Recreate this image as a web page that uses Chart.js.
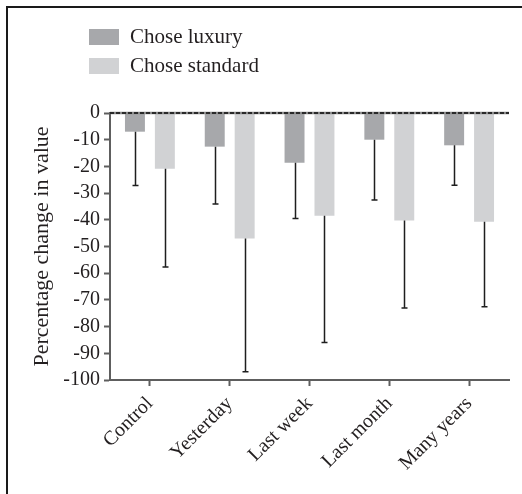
<!DOCTYPE html>
<html>
<head>
<meta charset="utf-8">
<script src="https://cdn.jsdelivr.net/npm/chart.js@4/dist/chart.umd.min.js"></script>
<style>
  html, body { margin: 0; padding: 0; background: #fff; }
  #wrap { width: 522px; height: 494px; position: relative; }
</style>
</head>
<body>
<div id="wrap"><canvas id="c" width="522" height="494"></canvas></div>
<script>
const categories = ["Control", "Yesterday", "Last week", "Last month", "Many years"];
const seriesNames = ["Chose luxury", "Chose standard"];
const luxuryValues = [-7, -12.6, -18.6, -10, -12.1];
const standardValues = [-20.9, -47, -38.5, -40.3, -40.7];
const luxuryErr = [20.2, 21.5, 20.9, 22.6, 15];
const standardErr = [36.8, 49.9, 47.5, 32.7, 31.9];
const yTicks = [0, -10, -20, -30, -40, -50, -60, -70, -80, -90, -100];
const yTitle = "Percentage change in value";

const FONT = "'Liberation Serif', 'Times New Roman', serif";
const luxuryColor = "#a7a8ab";
const standardColor = "#d1d2d4";
const axisColor = "#5e5e5e";

const figurePlugin = {
  id: 'figure',
  beforeDraw(chart) {
    const ctx = chart.ctx;
    ctx.save();
    ctx.fillStyle = '#fff';
    ctx.fillRect(0, 0, chart.width, chart.height);
    ctx.strokeStyle = '#1a1a1a';
    ctx.lineWidth = 2;
    ctx.beginPath();
    ctx.moveTo(7, chart.height);
    ctx.lineTo(7, 7);
    ctx.lineTo(chart.width, 7);
    ctx.stroke();
    // legend
    const items = chart.data.datasets;
    ctx.font = "21px " + FONT;
    ctx.textBaseline = 'middle';
    ctx.textAlign = 'left';
    items.forEach((ds, i) => {
      const y = 37 + i * 29;
      ctx.fillStyle = ds.backgroundColor;
      ctx.fillRect(89, y - 8, 30, 16);
      ctx.fillStyle = '#231f20';
      ctx.fillText(ds.label, 130, y);
    });
    ctx.restore();
  },
  afterDatasetsDraw(chart) {
    const ctx = chart.ctx;
    const ys = chart.scales.y;
    ctx.save();
    ctx.strokeStyle = '#1e1e1e';
    ctx.lineWidth = 1.5;
    chart.data.datasets.forEach((ds, di) => {
      const meta = chart.getDatasetMeta(di);
      meta.data.forEach((bar, i) => {
        const v = ds.data[i];
        const e = ds.err[i];
        const y0 = ys.getPixelForValue(v);
        const y1 = ys.getPixelForValue(v - e);
        const x = Math.round(bar.x) + 0.5;
        ctx.beginPath();
        ctx.moveTo(x, y0);
        ctx.lineTo(x, y1);
        ctx.moveTo(x - 3, y1);
        ctx.lineTo(x + 3, y1);
        ctx.stroke();
      });
    });
    // zero line
    const a = chart.chartArea;
    const yz = ys.getPixelForValue(0);
    ctx.strokeStyle = '#8a8a8a';
    ctx.lineWidth = 2.5;
    ctx.beginPath();
    ctx.moveTo(a.left, yz);
    ctx.lineTo(a.right, yz);
    ctx.stroke();
    ctx.strokeStyle = '#2a2a2a';
    ctx.lineWidth = 2;
    ctx.setLineDash([4, 2]);
    ctx.beginPath();
    ctx.moveTo(a.left, yz);
    ctx.lineTo(a.right, yz);
    ctx.stroke();
    ctx.restore();
  }
};

new Chart(document.getElementById('c'), {
  type: 'bar',
  data: {
    labels: categories,
    datasets: [
      { label: seriesNames[0], data: luxuryValues, err: luxuryErr, backgroundColor: luxuryColor },
      { label: seriesNames[1], data: standardValues, err: standardErr, backgroundColor: standardColor }
    ]
  },
  options: {
    responsive: false,
    animation: false,
    devicePixelRatio: 1,
    layout: { padding: { left: 0, top: 113, right: 13, bottom: 0 } },
    datasets: { bar: { categoryPercentage: 0.75, barPercentage: 0.667 } },
    plugins: { legend: { display: false }, tooltip: { enabled: false } },
    scales: {
      x: {
        afterFit(s) { s.height = 114; },
        grid: { offset: false, drawOnChartArea: false, drawTicks: true, tickLength: 6, tickColor: axisColor, tickWidth: 2 },
        border: { color: axisColor, width: 2 },
        ticks: { font: { family: FONT, size: 20 }, color: '#231f20', maxRotation: 45, minRotation: 45, padding: 6 }
      },
      y: {
        min: -100, max: 0,
        afterFit(s) { s.width = 110; },
        afterBuildTicks(s) { s.ticks = yTicks.map(v => ({ value: v })); },
        grid: { drawOnChartArea: false, drawTicks: true, tickLength: 6, tickColor: axisColor, tickWidth: 2 },
        border: { color: axisColor, width: 2 },
        ticks: { font: { family: FONT, size: 20 }, color: '#231f20', padding: 4, autoSkip: false },
        title: { display: true, text: yTitle, font: { family: FONT, size: 22 }, color: '#231f20', padding: { top: 29, bottom: 0 } }
      }
    }
  },
  plugins: [figurePlugin]
});
</script>
</body>
</html>
